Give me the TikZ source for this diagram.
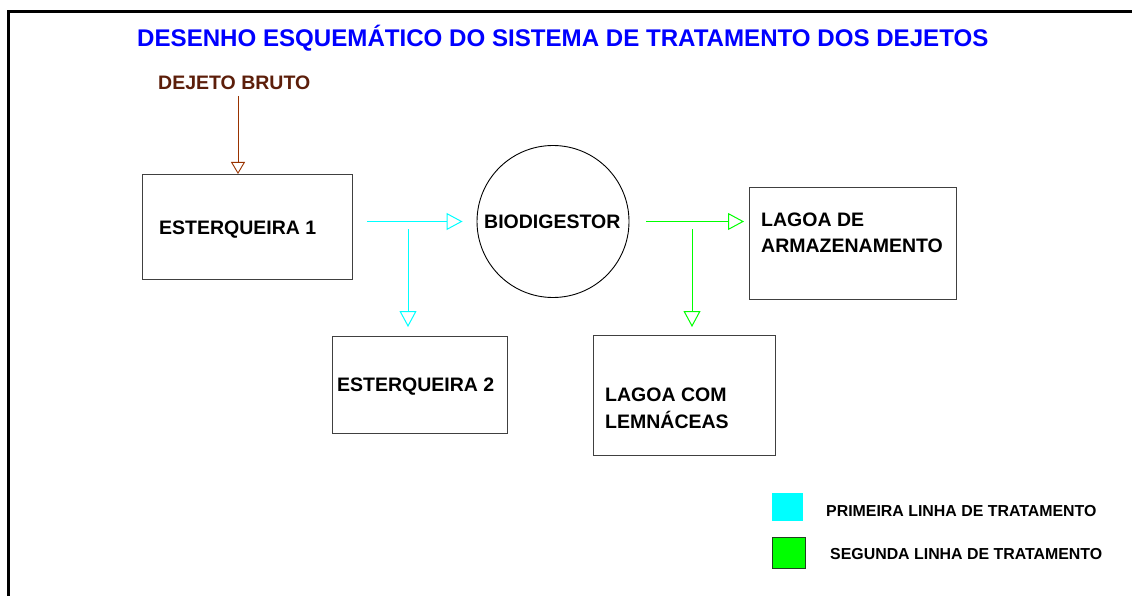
\documentclass[tikz,border=0pt]{standalone}
\usepackage{fontspec}
\setmainfont{Liberation Sans}
\usetikzlibrary{arrows.meta,calc}
\definecolor{ttlblue}{HTML}{0000FF}
\definecolor{dejbrown}{HTML}{5C1E0A}
\definecolor{brownl}{HTML}{993300}
\definecolor{cyanl}{HTML}{00FFFF}
\definecolor{greenl}{HTML}{00FF00}
\definecolor{darkgreen}{HTML}{1F401F}
\definecolor{boxgray}{HTML}{404040}
\begin{document}
\begin{tikzpicture}[x=1pt,y=1pt,
  box/.style={draw=boxgray, line width=0.9pt, inner sep=0pt, anchor=north west},
  lbl/.style={anchor=base west, inner sep=0pt, font=\fontsize{19.5}{23}\selectfont\bfseries},
  legtxt/.style={anchor=base west, inner sep=0pt, font=\fontsize{15.9}{18}\selectfont\bfseries},
  cyline/.style={draw=cyanl, line width=1pt, -{Triangle[open,length=16pt,width=17pt]}},
  grline/.style={draw=greenl, line width=1pt, -{Triangle[open,length=16pt,width=17pt]}},
  brline/.style={draw=brownl, line width=0.9pt, -{Triangle[open,length=12pt,width=14pt]}},
]
\useasboundingbox (0,0) rectangle (1132,-596);
% frame
\draw[line width=3pt] (8.3,-596) -- (8.3,-11.5) -- (1132,-11.5);
% title
\node[lbl, font=\fontsize{24.1}{28}\selectfont\bfseries, text=ttlblue] (title) at (137,-46.7) {DESENHO ESQUEMÁTICO DO SISTEMA DE TRATAMENTO DOS DEJETOS};
\node[lbl, text=dejbrown] (dej) at (158,-90) {DEJETO BRUTO};
% boxes
\node[box, minimum width=210pt, minimum height=105pt] (e1) at (142,-174) {};
\node[lbl] (e1t) at (159,-234) {ESTERQUEIRA 1};
\node[circle, draw=black, line width=0.9pt, minimum size=152pt, inner sep=0pt] (bio) at (553,-221.5) {};
\node[lbl] (biot) at (484,-229) {BIODIGESTOR};
\node[box, minimum width=175pt, minimum height=97pt] (e2) at (332,-336) {};
\node[lbl] (e2t) at (337,-391) {ESTERQUEIRA 2};
\node[box, minimum width=207pt, minimum height=112pt] (la) at (749,-187) {};
\node[lbl] (lat1) at (761,-226.7) {LAGOA DE};
\node[lbl] (lat2) at (761,-252.7) {ARMAZENAMENTO};
\node[box, minimum width=182pt, minimum height=120pt] (lc) at (593,-335) {};
\node[lbl] (lct1) at (605,-401) {LAGOA COM};
\node[lbl] (lct2) at (605,-428) {LEMNÁCEAS};
% connectors
\coordinate (b1) at (238,-96);
\draw[brline] (b1) -- (b1 |- e1.north);
\coordinate (c1) at ($(e1.east |- bio.west)+(14,0)$);
\draw[cyline] (c1) -- ($(bio.west)+(-14,0)$);
\coordinate (c2) at (408,-229);
\draw[cyline] (c2) -- ($(c2 |- e2.north)+(0,9)$);
\coordinate (g1) at ($(bio.east)+(17,0)$);
\draw[grline] (g1) -- ($(la.west |- g1)+(-5,0)$);
\coordinate (g2) at (692,-229);
\draw[grline] (g2) -- ($(g2 |- lc.north)+(0,8)$);
% legend
\node[fill=cyanl, minimum width=31pt, minimum height=28pt, inner sep=0pt, anchor=north west] (lg1) at (772,-493) {};
\node[fill=greenl, draw=darkgreen, line width=1pt, minimum width=33pt, minimum height=31pt, inner sep=0pt, anchor=north west] (lg2) at (772,-537) {};
\node[legtxt] (lt1) at (826,-516) {PRIMEIRA LINHA DE TRATAMENTO};
\node[legtxt] (lt2) at (830,-559) {SEGUNDA LINHA DE TRATAMENTO};
\end{tikzpicture}
\end{document}
